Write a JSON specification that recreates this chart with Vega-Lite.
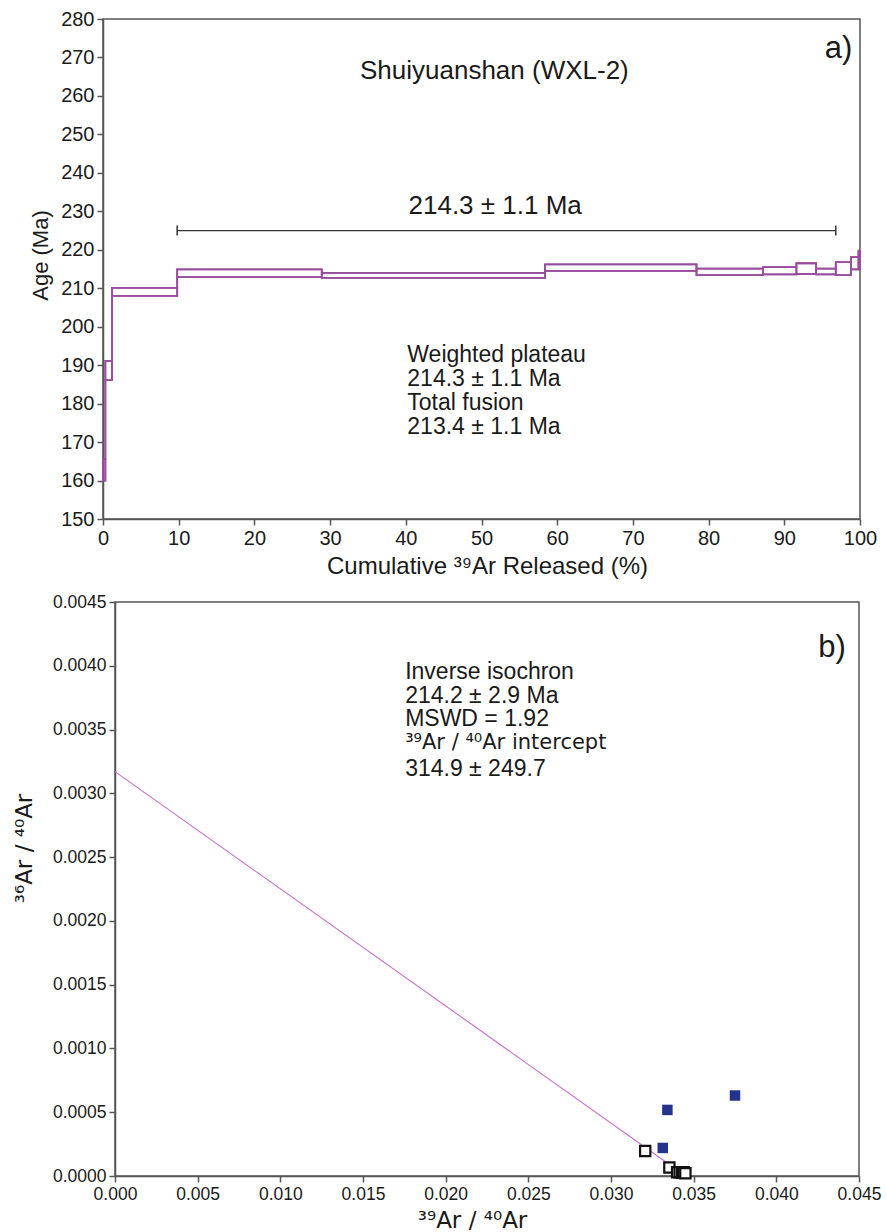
{
  "$schema": "https://vega.github.io/schema/vega-lite/v6.json",
  "padding": {"left": 11, "top": 8, "right": 0, "bottom": 0},
  "spacing": 13,
  "background": "white",
  "config": {
    "font": "Liberation Sans",
    "view": {"stroke": null},
    "axis": {
      "grid": false,
      "domainColor": "#555555",
      "tickColor": "#555555",
      "domainWidth": 1.5,
      "tickWidth": 1.5,
      "tickSize": 6,
      "labelPadding": 3,
      "labelColor": "#1a1a1a",
      "titleColor": "#1a1a1a",
      "labelFont": "Liberation Sans",
      "titleFont": "Liberation Sans",
      "titleFontWeight": "normal",
      "labelFlush": false,
      "labelOverlap": false
    }
  },
  "datasets": {
    "steps": [
      {"x0": 0, "x1": 0.31, "lo": 160, "hi": 165.6},
      {"x0": 0.31, "x1": 1.19, "lo": 186.1, "hi": 191.1},
      {"x0": 1.19, "x1": 9.8, "lo": 208.0, "hi": 210.1},
      {"x0": 9.8, "x1": 28.9, "lo": 212.9, "hi": 214.9},
      {"x0": 28.9, "x1": 58.4, "lo": 212.7, "hi": 214.0},
      {"x0": 58.4, "x1": 78.4, "lo": 214.5, "hi": 216.2},
      {"x0": 78.4, "x1": 87.2, "lo": 213.4, "hi": 215.1},
      {"x0": 87.2, "x1": 91.6, "lo": 213.6, "hi": 215.5},
      {"x0": 91.6, "x1": 94.2, "lo": 213.7, "hi": 216.5},
      {"x0": 94.2, "x1": 96.8, "lo": 213.6, "hi": 215.1},
      {"x0": 96.8, "x1": 98.8, "lo": 213.4, "hi": 216.8},
      {"x0": 98.8, "x1": 99.8, "lo": 214.9, "hi": 218.1},
      {"x0": 99.8, "x1": 100, "lo": 214.9, "hi": 219.8}
    ],
    "plateau": [{"x0": 9.8, "x1": 96.8, "age": 225}],
    "caps": [
      {"x": 9.8, "lo": 223.7, "hi": 226.3},
      {"x": 96.8, "lo": 223.7, "hi": 226.3}
    ],
    "textA_center": [
      {"x": 51.7, "y": 266.4, "label": "Shuiyuanshan (WXL-2)"},
      {"x": 51.8, "y": 231.3, "label": "214.3 ± 1.1 Ma"}
    ],
    "textA_block": [
      {"x": 40.2, "y": 192.6, "label": "Weighted plateau"},
      {"x": 40.2, "y": 186.4, "label": "214.3 ± 1.1 Ma"},
      {"x": 40.2, "y": 180.2, "label": "Total fusion"},
      {"x": 40.2, "y": 174.0, "label": "213.4 ± 1.1 Ma"}
    ],
    "textA_tag": [{"x": 99.0, "y": 272.3, "label": "a)"}],
    "isoline": [
      {"x": 0, "y": 0.00317},
      {"x": 0.0343, "y": 0.00002}
    ],
    "filledPts": [
      {"x": 0.03341, "y": 0.000518},
      {"x": 0.03750, "y": 0.000631},
      {"x": 0.03313, "y": 0.000220}
    ],
    "openPts": [
      {"x": 0.03207, "y": 0.000196},
      {"x": 0.03353, "y": 0.000066},
      {"x": 0.03400, "y": 0.000030},
      {"x": 0.03415, "y": 0.000030},
      {"x": 0.03430, "y": 0.000025},
      {"x": 0.03440, "y": 0.000030},
      {"x": 0.03450, "y": 0.000022}
    ],
    "textB_block": [
      {"x": 0.01755, "y": 0.00395, "label": "Inverse isochron"},
      {"x": 0.01755, "y": 0.003765, "label": "214.2 ± 2.9 Ma"},
      {"x": 0.01755, "y": 0.00358, "label": "MSWD = 1.92"},
      {"x": 0.01755, "y": 0.00319, "label": "314.9 ± 249.7"}
    ],
    "textB_sup": [
      {"x": 0.01755, "y": 0.003395, "label": "³⁹Ar / ⁴⁰Ar intercept"}
    ],
    "textB_tag": [{"x": 0.0442, "y": 0.00414, "label": "b)"}]
  },
  "vconcat": [
    {
      "spacing": 0,
      "hconcat": [
        {"width": 17, "height": 10, "data": {"values": []}, "mark": "point", "encoding": {}},
        {
          "width": 757,
          "height": 500,
          "view": {"stroke": "#555555", "strokeWidth": 1.5},
          "encoding": {
            "x": {"type": "quantitative", "scale": {"domain": [0, 100], "nice": false, "zero": false},
              "axis": {"title": "Cumulative ³⁹Ar Released (%)", "values": [0,10,20,30,40,50,60,70,80,90,100],
                "labelFontSize": 20, "titleFontSize": 24, "titleX": 384, "titleY": 47, "titleBaseline": "middle", "titleAlign": "center"}},
            "y": {"type": "quantitative", "scale": {"domain": [150, 280], "nice": false, "zero": false},
              "axis": {"title": "Age (Ma)", "values": [150,160,170,180,190,200,210,220,230,240,250,260,270,280],
                "labelFontSize": 20, "titleFontSize": 22, "titleX": -63, "titleY": 236, "titleBaseline": "middle", "titleAlign": "center", "titleAngle": 270}}
          },
          "layer": [
            {"data": {"name": "steps"}, "mark": {"type": "rect", "filled": false, "stroke": "#994d9e", "strokeWidth": 1.8},
              "encoding": {"x": {"field": "x0"}, "x2": {"field": "x1"}, "y": {"field": "lo"}, "y2": {"field": "hi"}}},
            {"data": {"name": "steps"}, "mark": {"type": "line", "interpolate": "step-after", "stroke": "#994d9e", "strokeWidth": 1.8},
              "encoding": {"x": {"field": "x0"}, "y": {"field": "hi"}}},
            {"data": {"name": "steps"}, "mark": {"type": "line", "interpolate": "step-after", "stroke": "#994d9e", "strokeWidth": 1.8},
              "encoding": {"x": {"field": "x0"}, "y": {"field": "lo"}}},
            {"data": {"name": "plateau"}, "mark": {"type": "rule", "stroke": "#333333", "strokeWidth": 1.3},
              "encoding": {"x": {"field": "x0"}, "x2": {"field": "x1"}, "y": {"field": "age"}}},
            {"data": {"name": "caps"}, "mark": {"type": "rule", "stroke": "#333333", "strokeWidth": 1.5},
              "encoding": {"x": {"field": "x"}, "y": {"field": "lo"}, "y2": {"field": "hi"}}},
            {"data": {"name": "textA_center"}, "mark": {"type": "text", "fontSize": 26, "align": "center", "baseline": "middle", "color": "#1a1a1a"},
              "encoding": {"x": {"field": "x"}, "y": {"field": "y"}, "text": {"field": "label"}}},
            {"data": {"name": "textA_block"}, "mark": {"type": "text", "fontSize": 23, "align": "left", "baseline": "middle", "color": "#1a1a1a"},
              "encoding": {"x": {"field": "x"}, "y": {"field": "y"}, "text": {"field": "label"}}},
            {"data": {"name": "textA_tag"}, "mark": {"type": "text", "fontSize": 31, "align": "right", "baseline": "middle", "color": "#1a1a1a"},
              "encoding": {"x": {"field": "x"}, "y": {"field": "y"}, "text": {"field": "label"}}}
          ]
        }
      ]
    },
    {
      "spacing": 0,
      "hconcat": [
        {"width": 1, "height": 10, "data": {"values": []}, "mark": "point", "encoding": {}},
        {
          "width": 744,
          "height": 574,
          "view": {"stroke": "#555555", "strokeWidth": 1.5},
          "encoding": {
            "x": {"type": "quantitative", "scale": {"domain": [0, 0.045], "nice": false, "zero": false},
              "axis": {"title": "³⁹Ar / ⁴⁰Ar", "values": [0,0.005,0.01,0.015,0.02,0.025,0.03,0.035,0.04,0.045], "format": ".3f",
                "labelFontSize": 17.5, "titleFont": "DejaVu Sans", "titleFontSize": 23, "titleX": 357, "titleY": 44, "titleBaseline": "middle", "titleAlign": "center"}},
            "y": {"type": "quantitative", "scale": {"domain": [0, 0.0045], "nice": false, "zero": false},
              "axis": {"title": "³⁶Ar / ⁴⁰Ar", "values": [0,0.0005,0.001,0.0015,0.002,0.0025,0.003,0.0035,0.004,0.0045], "format": ".4f",
                "labelFontSize": 17.5, "titleFont": "DejaVu Sans", "titleFontSize": 23, "titleX": -91, "titleY": 246, "titleBaseline": "middle", "titleAlign": "center", "titleAngle": 270}}
          },
          "layer": [
            {"data": {"name": "isoline"}, "mark": {"type": "line", "stroke": "#c46fc8", "strokeWidth": 1.1},
              "encoding": {"x": {"field": "x"}, "y": {"field": "y"}}},
            {"data": {"name": "filledPts"}, "mark": {"type": "point", "shape": "square", "filled": true, "fill": "#23338e", "strokeWidth": 0, "size": 110, "opacity": 1},
              "encoding": {"x": {"field": "x"}, "y": {"field": "y"}}},
            {"data": {"name": "openPts"}, "mark": {"type": "point", "shape": "square", "filled": true, "fill": "white", "stroke": "#111111", "strokeWidth": 2.2, "size": 105, "opacity": 1},
              "encoding": {"x": {"field": "x"}, "y": {"field": "y"}}},
            {"data": {"name": "textB_block"}, "mark": {"type": "text", "fontSize": 23, "align": "left", "baseline": "middle", "color": "#1a1a1a"},
              "encoding": {"x": {"field": "x"}, "y": {"field": "y"}, "text": {"field": "label"}}},
            {"data": {"name": "textB_sup"}, "mark": {"type": "text", "font": "DejaVu Sans", "fontSize": 21, "align": "left", "baseline": "middle", "color": "#1a1a1a"},
              "encoding": {"x": {"field": "x"}, "y": {"field": "y"}, "text": {"field": "label"}}},
            {"data": {"name": "textB_tag"}, "mark": {"type": "text", "fontSize": 31, "align": "right", "baseline": "middle", "color": "#1a1a1a"},
              "encoding": {"x": {"field": "x"}, "y": {"field": "y"}, "text": {"field": "label"}}}
          ]
        }
      ]
    }
  ]
}
